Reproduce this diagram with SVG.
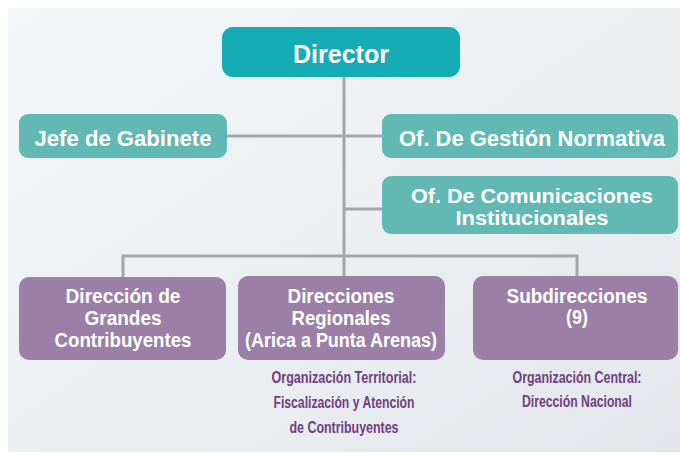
<svg xmlns="http://www.w3.org/2000/svg" width="680" height="456" viewBox="0 0 680 456">
<defs>
<linearGradient id="bg" x1="0" y1="0" x2="1" y2="1">
<stop offset="0" stop-color="#F4F7F9"/>
<stop offset="1" stop-color="#E3E7EB"/>
</linearGradient>
<style>
.lk{fill:none;stroke:#A6A6AA;stroke-width:3}
.dir{fill:#15ACB5}
.teal{fill:#62B9B4}
.pur{fill:#9B7FA6}
.bt{font-family:"Liberation Sans",Arial,sans-serif;font-weight:bold;fill:#FFFFFF;text-anchor:middle}
.cap{font-family:"Liberation Sans",Arial,sans-serif;font-weight:bold;fill:#6F3F7E;text-anchor:middle;font-size:16px}
</style>
</defs>
<rect x="0" y="0" width="680" height="456" fill="#FFFFFF"/>
<rect x="8" y="8" width="672" height="444" fill="url(#bg)"/>
<g id="connectors">
<path class="lk" d="M344 77 V256"/>
<path class="lk" d="M227 136 H382"/>
<path class="lk" d="M344 209 H382"/>
<path class="lk" d="M123 277 V256 H577 V277"/>
<path class="lk" d="M344 256 V277"/>
</g>
<g id="director">
<rect class="dir" x="222" y="27" width="238" height="50" rx="11"/>
<text class="bt" x="341" y="63" font-size="26" textLength="96" lengthAdjust="spacingAndGlyphs">Director</text>
</g>
<g id="jefe">
<rect class="teal" x="19" y="114" width="208" height="44" rx="9"/>
<text class="bt" x="123" y="146" font-size="22" textLength="177" lengthAdjust="spacingAndGlyphs">Jefe de Gabinete</text>
</g>
<g id="gestion">
<rect class="teal" x="382" y="114" width="296" height="44" rx="9"/>
<text class="bt" x="532" y="146" font-size="22" textLength="266" lengthAdjust="spacingAndGlyphs">Of. De Gestión Normativa</text>
</g>
<g id="comunicaciones">
<rect class="teal" x="382" y="176" width="296" height="58" rx="9"/>
<text class="bt" x="532" y="203" font-size="21" textLength="242" lengthAdjust="spacingAndGlyphs">Of. De Comunicaciones</text>
<text class="bt" x="532" y="225" font-size="21" textLength="153" lengthAdjust="spacingAndGlyphs">Institucionales</text>
</g>
<g id="grandes">
<rect class="pur" x="19" y="277" width="207" height="83" rx="10"/>
<text class="bt" x="123" y="303" font-size="20" textLength="115" lengthAdjust="spacingAndGlyphs">Dirección de</text>
<text class="bt" x="123" y="325" font-size="20" textLength="77" lengthAdjust="spacingAndGlyphs">Grandes</text>
<text class="bt" x="123" y="347" font-size="20" textLength="137" lengthAdjust="spacingAndGlyphs">Contribuyentes</text>
</g>
<g id="regionales">
<rect class="pur" x="238" y="276" width="207" height="84" rx="10"/>
<text class="bt" x="341" y="303" font-size="20" textLength="107" lengthAdjust="spacingAndGlyphs">Direcciones</text>
<text class="bt" x="341" y="325" font-size="20" textLength="99" lengthAdjust="spacingAndGlyphs">Regionales</text>
<text class="bt" x="341" y="347" font-size="20" textLength="192" lengthAdjust="spacingAndGlyphs">(Arica a Punta Arenas)</text>
<text class="cap" x="344" y="383" textLength="145" lengthAdjust="spacingAndGlyphs">Organización Territorial:</text>
<text class="cap" x="344" y="408" textLength="141" lengthAdjust="spacingAndGlyphs">Fiscalización y Atención</text>
<text class="cap" x="344" y="433" textLength="109" lengthAdjust="spacingAndGlyphs">de Contribuyentes</text>
</g>
<g id="subdirecciones">
<rect class="pur" x="473" y="276" width="205" height="84" rx="10"/>
<text class="bt" x="577" y="303" font-size="20" textLength="141" lengthAdjust="spacingAndGlyphs">Subdirecciones</text>
<text class="bt" x="577" y="324" font-size="20" textLength="22" lengthAdjust="spacingAndGlyphs">(9)</text>
<text class="cap" x="577" y="383" textLength="129" lengthAdjust="spacingAndGlyphs">Organización Central:</text>
<text class="cap" x="577" y="407" textLength="110" lengthAdjust="spacingAndGlyphs">Dirección Nacional</text>
</g>
</svg>
